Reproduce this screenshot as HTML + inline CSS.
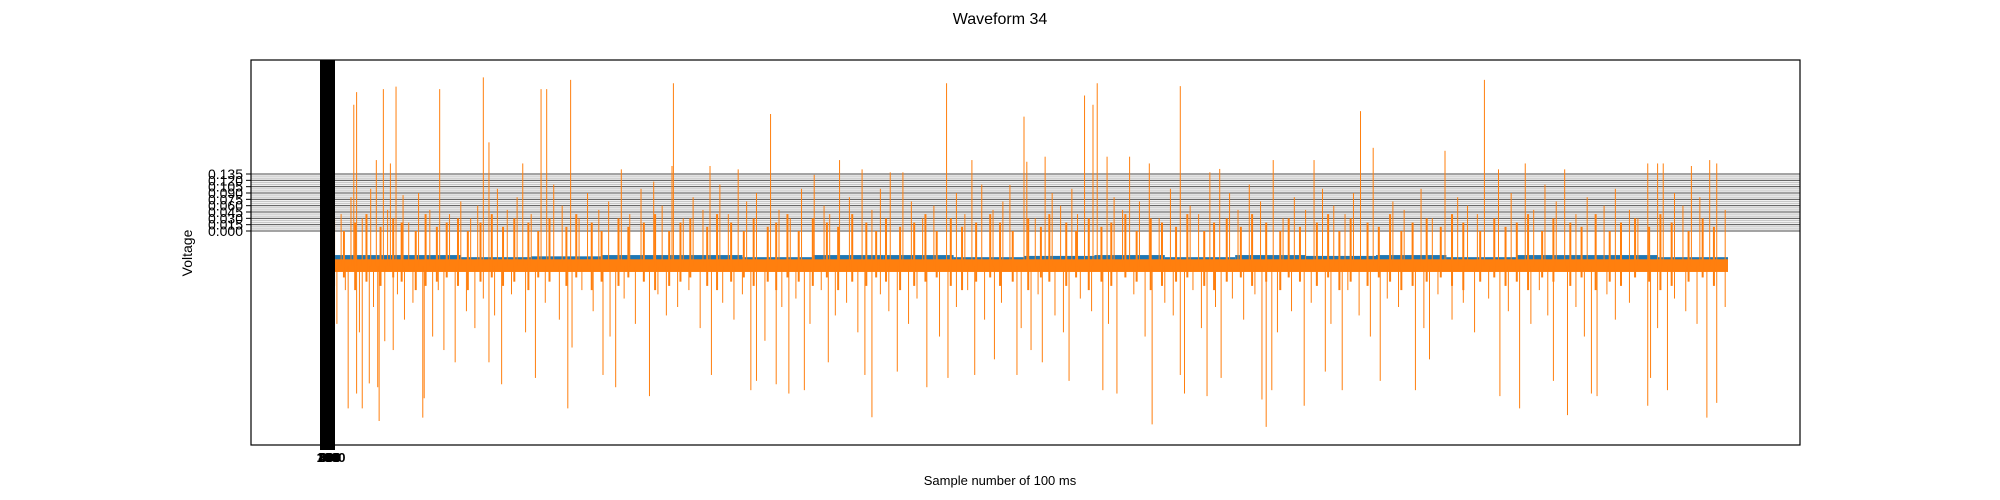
<!DOCTYPE html>
<html><head><meta charset="utf-8"><style>
html,body{margin:0;padding:0;background:#fff;}
svg{display:block;font-family:"Liberation Sans","DejaVu Sans",sans-serif;}
</style></head><body>
<svg id="chart" width="2000" height="500" viewBox="0 0 2000 500" xmlns="http://www.w3.org/2000/svg">
<rect x="0" y="0" width="2000" height="500" fill="#fff"/>
<text x="1000" y="24" text-anchor="middle" font-size="16">Waveform 34</text>
<text x="1000" y="485" text-anchor="middle" font-size="13">Sample number of 100 ms</text>
<text transform="translate(192,253) rotate(-90)" text-anchor="middle" font-size="14">Voltage</text>
<g id="grid"></g>
<g id="series"></g>
<g id="ticks"></g>
<rect x="251" y="60" width="1549" height="385" fill="none" stroke="#000" stroke-width="1.2"/>
</svg>
<script>
const yTickLabels=["0.000","0.015","0.030","0.045","0.060","0.075","0.090","0.105","0.120","0.135"];
const yTickValues=[0,0.015,0.03,0.045,0.06,0.075,0.09,0.105,0.12,0.135];
const upIdx=[24,26,40,45,50,54,59,85,116,120,144,157,161,178,214,237,250,251,277,297,320,351,369,385,405,414,445,463,490,500,502,515,543,549,552,559,575,589,611,632,639,677,706,739,748,799,827,837,856,884,943,950,954,974,987,992];
const upVal=[0.299,0.329,0.168,0.336,0.160,0.342,0.085,0.336,0.364,0.210,0.160,0.336,0.336,0.358,0.146,0.117,0.154,0.350,0.154,0.146,0.277,0.133,0.168,0.146,0.139,0.139,0.350,0.168,0.109,0.271,0.164,0.176,0.321,0.299,0.350,0.176,0.176,0.160,0.343,0.139,0.147,0.168,0.168,0.284,0.197,0.190,0.358,0.146,0.160,0.146,0.160,0.160,0.160,0.154,0.168,0.160];
const downIdx=[20,26,30,35,41,42,46,52,73,74,88,96,120,129,153,176,179,201,210,234,278,306,310,324,333,344,361,387,392,410,431,446,465,479,495,505,513,532,556,566,591,611,614,630,640,669,672,676,699,714,726,753,778,788,838,852,876,886,903,907,943,945,957,985,992];
const downVal=[-0.420,-0.385,-0.420,-0.361,-0.370,-0.450,-0.261,-0.282,-0.442,-0.396,-0.282,-0.311,-0.311,-0.363,-0.348,-0.420,-0.276,-0.341,-0.370,-0.391,-0.341,-0.377,-0.355,-0.363,-0.385,-0.377,-0.311,-0.341,-0.441,-0.333,-0.370,-0.348,-0.341,-0.304,-0.341,-0.282,-0.311,-0.355,-0.377,-0.385,-0.458,-0.341,-0.385,-0.391,-0.348,-0.399,-0.464,-0.377,-0.414,-0.333,-0.377,-0.355,-0.377,-0.304,-0.391,-0.420,-0.355,-0.436,-0.385,-0.391,-0.414,-0.348,-0.377,-0.442,-0.407];
const midUpIdx=[8,15,22,30,36,48,63,70,78,92,100,107,112,126,133,140,150,166,172,184,190,198,205,220,228,243,258,265,272,284,290,303,310,326,334,342,358,362,376,392,398,420,428,436,452,458,470,478,485,508,520,526,534,538,564,570,582,596,604,618,624,646,652,660,668,684,692,700,712,720,728,734,762,770,782,790,808,815,822,846,862,870,878,892,900,912,920,930,936,962,968,980,998];
const midUpVal=[0.06,0.04,0.08,0.03,0.10,0.05,0.02,0.09,0.05,0.04,0.07,0.03,0.06,0.10,0.05,0.08,0.04,0.11,0.06,0.03,0.09,0.05,0.07,0.04,0.10,0.06,0.03,0.08,0.05,0.11,0.04,0.07,0.09,0.05,0.03,0.10,0.06,0.04,0.08,0.05,0.10,0.07,0.03,0.06,0.09,0.04,0.11,0.05,0.07,0.03,0.09,0.06,0.10,0.04,0.08,0.05,0.07,0.03,0.10,0.06,0.04,0.09,0.05,0.11,0.07,0.03,0.08,0.05,0.10,0.06,0.04,0.09,0.07,0.05,0.10,0.03,0.08,0.06,0.04,0.09,0.05,0.11,0.07,0.04,0.08,0.06,0.10,0.05,0.03,0.09,0.06,0.08,0.05];
const midDnIdx=[5,12,18,28,38,55,60,66,80,84,104,110,116,124,136,146,160,170,186,194,206,216,224,240,246,254,262,270,286,294,300,316,328,338,348,356,366,374,382,398,404,418,424,440,452,460,472,484,498,510,522,528,540,548,560,578,586,600,606,620,626,636,648,656,664,680,690,704,718,730,738,746,758,766,784,794,804,812,820,830,844,860,866,872,892,898,914,920,930,950,962,970,978,998];
const midDnVal=[-0.16,-0.22,-0.14,-0.24,-0.18,-0.15,-0.21,-0.17,-0.25,-0.14,-0.19,-0.23,-0.16,-0.20,-0.15,-0.24,-0.17,-0.21,-0.14,-0.19,-0.25,-0.16,-0.22,-0.15,-0.20,-0.18,-0.14,-0.23,-0.17,-0.21,-0.15,-0.26,-0.18,-0.16,-0.22,-0.14,-0.20,-0.17,-0.24,-0.15,-0.19,-0.22,-0.16,-0.25,-0.18,-0.14,-0.21,-0.17,-0.23,-0.15,-0.20,-0.24,-0.16,-0.19,-0.22,-0.15,-0.25,-0.17,-0.20,-0.14,-0.23,-0.18,-0.16,-0.21,-0.15,-0.24,-0.19,-0.17,-0.22,-0.14,-0.20,-0.25,-0.16,-0.18,-0.23,-0.15,-0.21,-0.17,-0.24,-0.16,-0.19,-0.22,-0.14,-0.20,-0.18,-0.25,-0.15,-0.21,-0.17,-0.23,-0.16,-0.19,-0.22,-0.18];
const tinyIdx=[3,10,17,25,33,43,52,58,68,75,83,90,98,105,114,122,130,138,148,155,163,175,182,193,200,212,219,230,238,248,256,263,275,282,292,301,308,318,324,332,340,350,360,368,378,388,395,402,412,422,430,438,448,456,466,476,483,492,503,512,518,530,537,546,555,562,572,580,590,598,608,616,628,635,644,654,662,672,682,688,696,708,716,724,732,744,752,760,768,776,786,796,804,812,824,834,842,850,858,868,876,888,896,906,916,924,934,944,952,960,972,982,990];
const tinyUp=[0.01,0.03,0.0,0.02,0.04,0.01,0.03,0.02,0.0,0.04,0.01,0.02,0.03,0.0,0.02,0.04,0.01,0.03,0.02,0.0,0.03,0.01,0.04,0.02,0.0,0.03,0.01,0.02,0.04,0.0,0.02,0.03,0.01,0.04,0.02,0.0,0.03,0.01,0.02,0.04,0.0,0.03,0.02,0.01,0.04,0.02,0.0,0.03,0.01,0.02,0.04,0.0,0.03,0.01,0.02,0.04,0.02,0.0,0.03,0.01,0.04,0.02,0.0,0.03,0.01,0.02,0.04,0.0,0.03,0.02,0.01,0.04,0.0,0.02,0.03,0.01,0.04,0.02,0.0,0.03,0.01,0.02,0.04,0.0,0.03,0.02,0.01,0.04,0.0,0.02,0.03,0.01,0.04,0.02,0.0,0.03,0.01,0.02,0.04,0.0,0.03,0.02,0.01,0.04,0.0,0.02,0.03,0.01,0.04,0.02,0.0,0.03,0.01];
const tinyDn=[-0.12,-0.13,-0.11,-0.14,-0.12,-0.13,-0.11,-0.12,-0.14,-0.13,-0.12,-0.11,-0.13,-0.14,-0.12,-0.11,-0.13,-0.12,-0.14,-0.11,-0.12,-0.13,-0.11,-0.14,-0.12,-0.13,-0.11,-0.12,-0.14,-0.13,-0.12,-0.11,-0.13,-0.14,-0.12,-0.11,-0.13,-0.12,-0.14,-0.11,-0.12,-0.13,-0.11,-0.14,-0.12,-0.13,-0.11,-0.12,-0.14,-0.13,-0.12,-0.11,-0.13,-0.14,-0.12,-0.11,-0.13,-0.12,-0.14,-0.11,-0.12,-0.13,-0.11,-0.14,-0.12,-0.13,-0.11,-0.12,-0.14,-0.13,-0.12,-0.11,-0.13,-0.14,-0.12,-0.11,-0.13,-0.12,-0.14,-0.11,-0.12,-0.13,-0.11,-0.14,-0.12,-0.13,-0.11,-0.12,-0.14,-0.13,-0.12,-0.11,-0.13,-0.14,-0.12,-0.11,-0.13,-0.12,-0.14,-0.11,-0.12,-0.13,-0.11,-0.14,-0.12,-0.13,-0.11,-0.12,-0.14,-0.13,-0.12,-0.11,-0.13];
const blueLevel=[-0.057,-0.057,-0.062,-0.060,-0.057,-0.057,-0.062,-0.057,-0.057,-0.062,-0.059,-0.057,-0.062,-0.057,-0.059,-0.057,-0.062,-0.057,-0.057,-0.062];
const N=1000;
const xs=i=>320+i*1408/N;
const ys=v=>231-v*422.2;
const NS="http://www.w3.org/2000/svg";
function mk(t,a,p){const e=document.createElementNS(NS,t);for(const k in a)e.setAttribute(k,a[k]);p.appendChild(e);return e;}
const grid=document.getElementById('grid'),ser=document.getElementById('series'),tk=document.getElementById('ticks');
const bg=mk('rect',{x:251,y:ys(0.137),width:1549,height:ys(-0.002)-ys(0.137),fill:'#f0f0f0'},grid);


for(let v=0;v<=0.1351;v+=0.005){const major=Math.abs(v/0.015-Math.round(v/0.015))<1e-6;
 const l=mk('line',{x1:251,x2:1800,y1:ys(v),y2:ys(v),stroke:major?'#555':'#c8c8c8','stroke-width':1},grid);
 
 }
yTickValues.forEach((v,k)=>{
 const l=mk('line',{x1:246,x2:251,y1:ys(v),y2:ys(v),stroke:'#000'},tk);
 
 
 const t=mk('text',{x:243,y:ys(v)+5,'text-anchor':'end','font-size':14},tk);t.textContent=yTickLabels[k];
 
 });
blueLevel.forEach((v,k)=>{const x0=xs(k*N/blueLevel.length),x1=xs((k+1)*N/blueLevel.length);
 const r=mk('rect',{x:x0,y:ys(v),width:x1-x0,height:ys(-0.075)-ys(v),fill:'#1f77b4'},ser);
 
 });
const band=mk('rect',{x:xs(0),y:ys(-0.067),width:xs(N)-xs(0),height:ys(-0.097)-ys(-0.067),fill:'#ff7f0e'},ser);


const base=-0.083;
function spikes(idx,val,w,name){idx.forEach((i,k)=>{
 const l=mk('line',{x1:xs(i),x2:xs(i),y1:ys(base),y2:ys(val[k]),stroke:'#ff7f0e','stroke-width':w},ser);
 
 });}
spikes(tinyIdx,tinyUp,2,'orange-noise-up');
spikes(tinyIdx,tinyDn,2,'orange-noise-down');
spikes(midUpIdx,midUpVal,1,'orange-spike-small-up');
spikes(midDnIdx,midDnVal,1,'orange-spike-small-down');
spikes(upIdx,upVal,1,'orange-spike-up');
spikes(downIdx,downVal,1,'orange-spike-down');
const bar=mk('rect',{x:320,y:60,width:15,height:390,fill:'#000'},ser);


["0","200","400","600","800","1000"].forEach((s,k)=>{const t=mk('text',{x:328+k*0.6,y:462,'text-anchor':'middle','font-size':13,'font-weight':'bold'},tk);t.textContent=s;
 
 });
</script>
</body></html>
